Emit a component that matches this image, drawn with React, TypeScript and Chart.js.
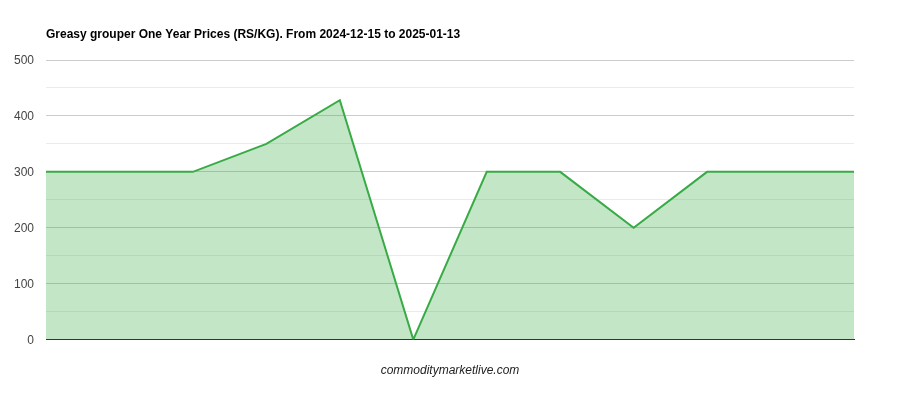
import React, { useEffect, useRef } from "react";
import { Chart, registerables } from "chart.js";

Chart.register(...registerables);

const TITLE = "Greasy grouper One Year Prices (RS/KG). From 2024-12-15 to 2025-01-13";
const SOURCE = "commoditymarketlive.com";
const categories = ["1", "2", "3", "4", "5", "6", "7", "8", "9", "10", "11", "12"];
const prices = [300, 300, 300, 350, 428, 0, 300, 300, 200, 300, 300, 300];
const yMin = 0;
const yMax = 500;

const FONT = "Arial, 'Liberation Sans', sans-serif";

const titlePlugin = {
  id: "leftTitle",
  afterDraw(chart: any) {
    const { ctx, chartArea } = chart;
    ctx.save();
    ctx.font = `bold 12px ${FONT}`;
    ctx.fillStyle = "#000";
    ctx.textAlign = "left";
    ctx.textBaseline = "middle";
    ctx.fillText(TITLE, chartArea.left, 35);
    ctx.restore();
  },
};

export default function App() {
  const ref = useRef<HTMLCanvasElement>(null);
  useEffect(() => {
    if (!ref.current) return;
    const chart = new Chart(ref.current, {
      type: "line",
      data: {
        labels: categories,
        datasets: [
          {
            data: prices,
            borderColor: "rgb(57,171,70)",
            backgroundColor: "rgba(57,171,70,0.3)",
            borderWidth: 2,
            fill: "origin",
            pointRadius: 0,
            tension: 0,
          },
        ],
      },
      options: {
        animation: false,
        responsive: false,
        maintainAspectRatio: false,
        layout: { padding: { top: 60, right: 46, bottom: 22, left: 0 } },
        plugins: {
          legend: { display: false },
          tooltip: { enabled: false },
          title: { display: false },
        },
        scales: {
          x: {
            offset: false,
            ticks: { display: false },
            grid: { display: false, drawTicks: false },
            border: { display: true, color: "#333", width: 1 },
            title: {
              display: true,
              text: SOURCE,
              color: "#222",
              font: { family: FONT, size: 12, style: "italic" },
              padding: { top: 24, bottom: 0 },
            },
          },
          y: {
            min: yMin,
            max: yMax,
            afterFit(scale: any) {
              scale.width = 46;
            },
            ticks: {
              stepSize: 50,
              padding: 12,
              labelOffset: 1,
              color: "#444",
              font: { family: FONT, size: 12 },
              callback: (v: any) => (Number(v) % 100 === 0 ? String(v) : ""),
            },
            grid: {
              drawTicks: false,
              color: (ctx: any) => {
                const v = ctx.tick ? ctx.tick.value : 0;
                if (v === 0) return "#333";
                return v % 100 === 0 ? "#cccccc" : "#ebebeb";
              },
            },
            border: { display: false },
          },
        },
      },
      plugins: [titlePlugin],
    });
    return () => chart.destroy();
  }, []);
  return (
    <div style={{ position: "fixed", left: 0, top: 0, width: 900, height: 400, background: "#fff" }}>
      <canvas ref={ref} width={900} height={400} style={{ width: 900, height: 400 }} />
    </div>
  );
}
